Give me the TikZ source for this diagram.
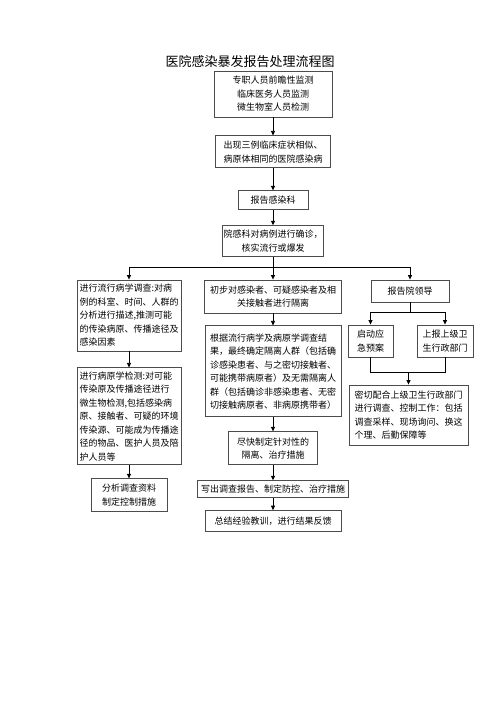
\documentclass[tikz,border=0pt]{standalone}
\usepackage{fontspec}
\setmainfont{Noto Sans CJK SC}
\usepackage{tikz}
\usetikzlibrary{arrows.meta, positioning}

\begin{document}
\begin{tikzpicture}[
    x=1pt, y=-1pt,
    box/.style={draw=black!70, line width=0.9pt, inner sep=0pt, align=center, font=\fontsize{9}{13.5}\selectfont},
    lbox/.style={box, align=left},
    arrow/.style={-{Triangle[length=4.5pt, width=4pt]}, line width=0.7pt},
    line/.style={line width=0.7pt},
]
\fill[white] (0,0) rectangle (500,707);
\useasboundingbox (0,0) rectangle (500,707);

\node[font=\fontsize{13}{15}\selectfont] (title) at (250,62) {医院感染暴发报告处理流程图};

% main column
\node[box, minimum width=118pt, minimum height=46pt] (b1) at (273,94) {专职人员前瞻性监测\\临床医务人员监测\\微生物室人员检测};
\node[box, minimum width=115pt, minimum height=32pt, below=18pt of b1] (b2) {出现三例临床症状相似、\\病原体相同的医院感染病};
\node[box, minimum width=70pt, minimum height=19pt, below=22pt of b2] (b3) {报告感染科};
\node[box, minimum width=101pt, minimum height=31pt, below=15pt of b3] (b4) {院感科对病例进行确诊，\\核实流行或爆发};

% left column
\node[lbox, minimum width=104pt, minimum height=71pt] (l1) at (129,315.5) {进行流行病学调查:对病\\例的科室、时间、人群的\\分析进行描述,推测可能\\的传染病原、传播途径及\\感染因素};
\node[lbox, minimum width=104pt, minimum height=97pt, below=16pt of l1] (l2) {进行病原学检测:对可能\\传染原及传播途径进行\\微生物检测,包括感染病\\原、接触者、可疑的环境\\传染源、可能成为传播途\\径的物品、医护人员及陪\\护人员等};
\node[box, minimum width=76pt, minimum height=33pt, below=13pt of l2] (l3) {分析调查资料\\制定控制措施};

% centre column
\node[box, minimum width=137pt, minimum height=33pt] (c1) at (273,296.5) {初步对感染者、可疑感染者及相\\关接触者进行隔离};
\node[lbox, minimum width=136pt, minimum height=91pt, below=12pt of c1] (c2) {根据流行病学及病原学调查结\\果，最终确定隔离人群（包括确\\诊感染患者、与之密切接触者、\\可能携带病原者）及无需隔离人\\群（包括确诊非感染患者、无密\\切接触病原者、非病原携带者）};
\node[box, minimum width=89pt, minimum height=33pt, below=14pt of c2] (c3) {尽快制定针对性的\\隔离、治疗措施};
\node[box, minimum width=151pt, minimum height=17pt, below=15pt of c3] (c4) {写出调查报告、制定防控、治疗措施};
\node[box, minimum width=136pt, minimum height=21pt, below=12pt of c4] (c5) {总结经验教训，进行结果反馈};

% right column
\node[box, minimum width=78pt, minimum height=22pt] (r1) at (410,291) {报告院领导};
\node[box, minimum width=45pt, minimum height=32pt] (r2) at (370.5,341) {启动应\\急预案};
\node[box, minimum width=56pt, minimum height=32pt] (r3) at (445,341) {上报上级卫\\生行政部门};
\node[lbox, minimum width=119pt, minimum height=60pt] (r4) at (408.5,415) {密切配合上级卫生行政部门\\进行调查、控制工作：包括\\调查采样、现场询问、换这\\个理、后勤保障等};

\draw[arrow] (b1) -- (b2);
\draw[arrow] (b2) -- (b3);
\draw[arrow] (b3) -- (b4);

\coordinate (fork) at (273,267);
\draw[line] (b4) -- (fork);
\draw[arrow] (fork) -| (l1);
\draw[arrow] (fork) -- (c1);
\draw[arrow] (fork) -| (r1);

\draw[arrow] (l1) -- (l2);
\draw[arrow] (l2) -- (l3);

\draw[arrow] (c1) -- (c2);
\draw[arrow] (c2) -- (c3);
\draw[arrow] (c3) -- (c4);
\draw[arrow] (c4) -- (c5);

\coordinate (rfork) at (410,312);
\draw[line] (r1) -- (rfork);
\draw[arrow] (rfork) -| (r2);
\draw[arrow] (rfork) -| (r3);
\coordinate (rjoin) at (408.5,372);
\draw[line] (r2) |- (rjoin);
\draw[line] (r3) |- (rjoin);
\draw[arrow] (rjoin) -- (r4);
\end{tikzpicture}
\end{document}
